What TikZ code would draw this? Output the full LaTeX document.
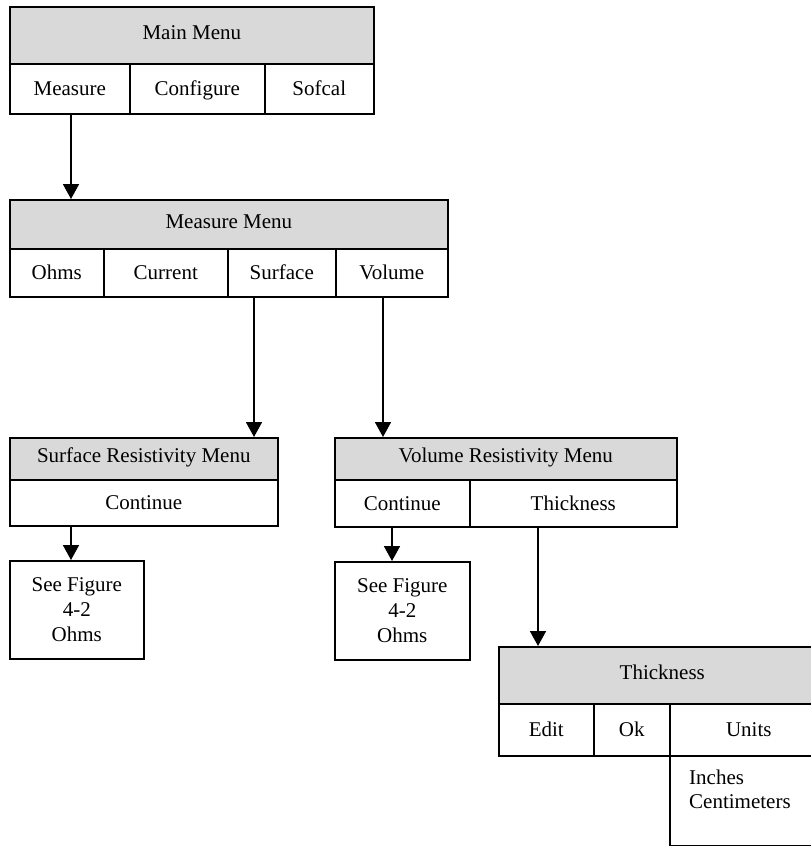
\documentclass[tikz,border=0pt]{standalone}
\usepackage{fontspec}
\setmainfont{Liberation Serif}
\usetikzlibrary{arrows.meta}
\definecolor{headgray}{HTML}{D9D9D9}
\begin{document}
\begin{tikzpicture}[x=1pt,y=-1pt,
  cell/.style={draw=black,line width=1.6pt,fill=white,anchor=north west,inner sep=0pt,font=\fontsize{21}{25}\selectfont,text height=16pt,text depth=2.2pt},
  head/.style={cell,fill=headgray,text height=13pt,text depth=5pt},
  multi/.style={cell,align=center,text height=,text depth=},
  sz/.style 2 args={minimum width=#1pt,minimum height=#2pt},
  txt/.style={anchor=north west,inner sep=0pt,align=left,font=\fontsize{21}{24}\selectfont},
  arr/.style={line width=1.8pt,-{Triangle[width=16pt,length=15pt]}}]
\useasboundingbox (0,0) rectangle (811,846);
\clip (0,0) rectangle (811,846);
% Main menu
\node[head,sz={364}{57}] (mainh) at (9,6) {Main Menu};
\node[cell,sz={120}{50}] (mmeas) at (9,63) {Measure};
\node[cell,sz={135}{50}] (mconf) at (129,63) {Configure};
\node[cell,sz={109}{50}] (msof) at (264,63) {Sofcal};
% Measure menu
\node[head,sz={438}{49}] (meash) at (9,199) {Measure Menu};
\node[cell,sz={94}{48}] (mohms) at (9,248) {Ohms};
\node[cell,sz={124}{48}] (mcur) at (103,248) {Current};
\node[cell,sz={108}{48}] (msurf) at (227,248) {Surface};
\node[cell,sz={112}{48}] (mvol) at (335,248) {Volume};
% Surface resistivity
\node[head,sz={268}{42}] (srh) at (9,437) {Surface Resistivity Menu};
\node[cell,sz={268}{46}] (srcont) at (9,479) {Continue};
\node[multi,sz={134}{98}] (sf1) at (9,560) {See Figure\\4-2\\Ohms};
% Volume resistivity
\node[head,sz={342}{42}] (vrh) at (334,437) {Volume Resistivity Menu};
\node[cell,sz={135}{47}] (vrcont) at (334,479) {Continue};
\node[cell,sz={207}{47}] (vrthick) at (469,479) {Thickness};
\node[multi,sz={135}{98}] (sf2) at (334,561) {See Figure\\4-2\\Ohms};
% Thickness
\node[head,sz={327}{57}] (thh) at (498,646) {Thickness};
\node[cell,sz={95}{52}] (tedit) at (498,703) {Edit};
\node[cell,sz={76}{52}] (tok) at (593,703) {Ok};
\node[cell,sz={158}{52}] (tunits) at (669,703) {Units};
\node[cell,sz={158}{90}] (tdrop) at (669,755) {};
\node[txt] (tlist) at ([xshift=20pt,yshift=-15pt]tdrop.north west) {Inches\\Centimeters};
% Connectors
\coordinate (c1) at ([xshift=62pt]mmeas.south west);
\draw[arr] (c1) -- (c1 |- meash.north);
\coordinate (c2) at ([xshift=27pt]msurf.south west);
\draw[arr] (c2) -- (c2 |- srh.north);
\coordinate (c3) at ([xshift=48pt]mvol.south west);
\draw[arr] (c3) -- (c3 |- vrh.north);
\coordinate (c4) at ([xshift=62pt]srcont.south west);
\draw[arr] (c4) -- (c4 |- sf1.north);
\coordinate (c5) at ([xshift=58pt]vrcont.south west);
\draw[arr] (c5) -- (c5 |- sf2.north);
\coordinate (c6) at ([xshift=69pt]vrthick.south west);
\draw[arr] (c6) -- (c6 |- thh.north);
\end{tikzpicture}
\end{document}
